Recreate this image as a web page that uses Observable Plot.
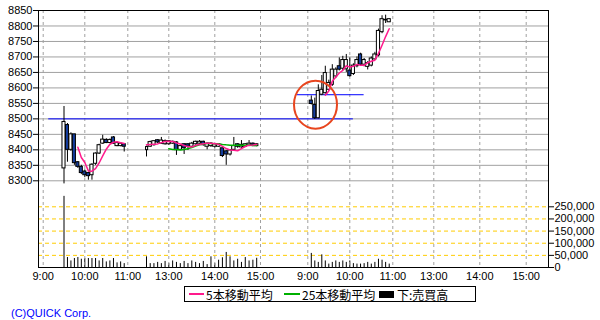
<!DOCTYPE html>
<html><head><meta charset="utf-8">
<script src="https://cdn.jsdelivr.net/npm/d3@7"></script>
<script src="https://cdn.jsdelivr.net/npm/@observablehq/plot@0.6"></script>
<style>
html,body{margin:0;padding:0;background:#fff;}
#wrap{position:relative;width:600px;height:320px;overflow:hidden;font-family:"Liberation Sans",Arial,sans-serif;}
#wrap svg{position:absolute;left:0;top:0;}
.abs{position:absolute;white-space:nowrap;}
.lg{font-family:"Noto Sans CJK JP",sans-serif;font-size:12px;line-height:15px;color:#000;}
</style></head>
<body><div id="wrap"></div>
<script>
// ---- session starts (5-minute bars) ----
const d1amStart = "9:30", d1pmStart = "12:30", d2amStart = "9:05";

// ---- Day 1 morning ----
const d1amOpen  = [8340,8480,8400,8450,8360,8345,8330,8325,8318,8355,8388,8420,8432,8422,8440,8412,8412,8418];
const d1amHigh  = [8540,8485,8455,8450,8362,8350,8335,8328,8355,8390,8418,8447,8436,8435,8443,8425,8422,8420];
const d1amLow   = [8290,8360,8395,8350,8340,8320,8310,8302,8302,8350,8385,8418,8420,8420,8418,8410,8410,8393];
const d1amClose = [8490,8400,8450,8357,8345,8325,8318,8315,8352,8388,8415,8433,8422,8432,8420,8422,8420,8410];
const d1amVol   = [293000,41000,27000,37000,41000,34000,37000,37000,37000,37000,27000,37000,23000,27000,37000,19000,23000,16000];

// ---- Day 1 afternoon ----
const d1pmOpen  = [8399,8410,8415,8431,8420,8418,8418,8420,8424,8400,8418,8418,8410,8418,8420,8426,8410,8412,8410,8410,8405,8395,8385,8400,8418,8408,8410,8414,8420,8412];
const d1pmHigh  = [8412,8428,8430,8433,8440,8432,8430,8428,8426,8415,8420,8420,8424,8428,8430,8428,8422,8423,8420,8420,8406,8398,8400,8440,8420,8430,8420,8430,8422,8420];
const d1pmLow   = [8377,8408,8412,8420,8418,8415,8415,8418,8382,8398,8385,8398,8408,8415,8418,8412,8400,8408,8405,8408,8375,8350,8380,8398,8405,8405,8408,8410,8410,8410];
const d1pmClose = [8409,8425,8428,8424,8430,8428,8428,8426,8399,8412,8405,8410,8420,8426,8426,8415,8420,8420,8418,8418,8380,8385,8398,8412,8410,8416,8418,8420,8414,8418];
const d1pmVol   = [44000,16000,16000,21000,16000,25000,16000,27000,21000,16000,25000,16000,27000,21000,16000,25000,12000,44000,16000,30000,40000,62000,44000,27000,34000,21000,41000,27000,30000,38000];

// ---- Day 2 morning ----
const d2amOpen  = [8559,8545,8502,8578,8583,8594,8610,8637,8670,8662,8660,8656,8645,8670,8708,8675,8668,8672,8692,8705,8780,8818,8812];
const d2amHigh  = [8574,8567,8610,8640,8670,8625,8675,8665,8697,8702,8708,8697,8678,8700,8712,8695,8685,8700,8715,8790,8833,8835,8823];
const d2amLow   = [8545,8498,8500,8575,8580,8590,8605,8630,8655,8655,8650,8635,8640,8665,8670,8668,8658,8668,8690,8700,8775,8808,8811];
const d2amClose = [8548,8502,8590,8594,8648,8616,8659,8659,8659,8690,8690,8638,8672,8690,8675,8690,8680,8695,8708,8784,8822,8820,8822];
const d2amVol   = [58000,27000,21000,52000,27000,14000,21000,27000,21000,27000,21000,27000,16000,14000,14000,16000,21000,14000,21000,34000,30000,21000,14000];

// ---- axes ----
const priceTicks = [8300,8350,8400,8450,8500,8550,8600,8650,8700,8750,8800,8850];
const priceGrid  = [8300,8350,8400,8450,8500,8550,8600,8650,8700,8750,8800];
const volTicks   = [0,50000,100000,150000,200000,250000];
const tickDays   = [1,1,1,1,1,1,2,2,2,2,2,2];
const tickLabels = ["9:00","10:00","11:00","13:00","14:00","15:00","9:00","10:00","11:00","13:00","14:00","15:00"];

// ---- annotations ----
const refPrices = [8500, 8578];
const refFrom   = [[1,"9:08"],[2,"8:45"]];
const refTo     = [[2,"10:05"],[2,"10:20"]];
const circleAt  = [2,"9:11"], circlePrice = 8546;

// ---- helpers ----
const mins = (day, hm) => { const [h,m] = hm.split(":").map(Number); return (day-1)*1440 + (h-9)*60 + m; };
function bars(day, session, start, O, H, L, C, V) {
  const t0 = mins(day, start);
  return O.map((o,i) => ({t: t0 + 5*i, day, session, open:o, high:H[i], low:L[i], close:C[i], vol:V[i]}));
}
const candles = [
  ...bars(1,"1am",d1amStart,d1amOpen,d1amHigh,d1amLow,d1amClose,d1amVol),
  ...bars(1,"1pm",d1pmStart,d1pmOpen,d1pmHigh,d1pmLow,d1pmClose,d1pmVol),
  ...bars(2,"2am",d2amStart,d2amOpen,d2amHigh,d2amLow,d2amClose,d2amVol)
];
// trailing moving averages over each day's closes
for (const day of [1,2]) {
  const rows = candles.filter(d => d.day === day);
  const cl = rows.map(d => d.close);
  rows.forEach((d,i) => {
    d.ma5  = i >= 4  ? d3.mean(cl.slice(i-4, i+1))  : NaN;
    d.ma25 = i >= 24 ? d3.mean(cl.slice(i-24, i+1)) : NaN;
  });
}
const refLines = refPrices.map((p,i) => ({price:p, from: mins(...refFrom[i]), to: mins(...refTo[i])}));
const circle = [{t: mins(...circleAt), price: circlePrice}];

// session-compressed time axis: clock minutes -> axis position
const sessionTime = d3.scaleLinear()
  .domain([0,60,120,210,240,300,360,390,1410,1440,1500,1560,1650,1680,1740,1800])
  .range([42.7,84.3,127.3,146,168.3,214.3,260,283,286.3,307.3,349.3,392.3,412,433.3,479.3,525.7]);
const tickTimes = tickLabels.map((l,i) => mins(tickDays[i], l));
const tickPos = tickTimes.map(sessionTime);
const labelAt = new Map(tickPos.map((p,i) => [p, tickLabels[i]]));

const W = 600, H = 285, M = {marginLeft:38, marginRight:52, marginTop:10, marginBottom:18};
const xOpts = {transform: sessionTime, domain:[38,548], range:[38,548]};
const baseStyle = {background:"transparent", overflow:"visible", fontFamily:"Liberation Sans, Arial, sans-serif", fontSize:"11px", color:"#000"};

const ellipse = { draw(ctx) { const rx=21.5, ry=24, k=0.5523;
  ctx.moveTo(rx,0); ctx.bezierCurveTo(rx,ry*k,rx*k,ry,0,ry); ctx.bezierCurveTo(-rx*k,ry,-rx,ry*k,-rx,0);
  ctx.bezierCurveTo(-rx,-ry*k,-rx*k,-ry,0,-ry); ctx.bezierCurveTo(rx*k,-ry,rx,-ry*k,rx,0); ctx.closePath(); } };

// volume panel (underneath)
const volPlot = Plot.plot({
  width: W, height: H, ...M, style: baseStyle,
  x: {...xOpts, axis: null},
  y: {domain:[0,250000], range:[267,206.3], axis:"right", ticks: volTicks, tickFormat: d3.format(","), tickSize:5, tickPadding:1, label:null},
  marks: [
    Plot.ruleY(volTicks, {stroke:"#ffcc00", strokeDasharray:"4,3"}),
    Plot.ruleX(candles, {x:"t", y1:0, y2:"vol", stroke:"#000"})
  ]
});

// price panel (on top)
const pricePlot = Plot.plot({
  width: W, height: H, ...M, style: baseStyle,
  x: {...xOpts, ticks: tickPos, tickFormat: d => labelAt.get(d), tickSize:0, tickPadding:5, label:null},
  y: {domain:[8300,8850], range:[180.3,10], ticks: priceTicks, tickFormat: d3.format("d"), tickSize:5, tickPadding:1, label:null},
  marks: [
    Plot.ruleY(priceGrid, {stroke:"#a0a0a0"}),
    Plot.ruleX(tickTimes, {stroke:"#a0a0a0", strokeDasharray:"3,3"}),
    Plot.ruleY(refLines, {y:"price", x1:"from", x2:"to", stroke:"#0000ff"}),
    Plot.ruleX(candles, {x:"t", y1:"low", y2:"high", stroke:"#000"}),
    Plot.rect(candles, {x1: d => d.t - 2.2, x2: d => d.t + 2.2, y1:"open", y2:"close",
      fill: d => d.close >= d.open ? "#fff" : "#143c9c", stroke:"#000"}),
    Plot.line(candles, {x:"t", y:"ma25", z:"session", stroke:"#00b000"}),
    Plot.line(candles, {x:"t", y:"ma5", z:"session", stroke:"#ff1a8c"}),
    Plot.dot(circle, {x:"t", y:"price", symbol: ellipse, fill:"none", stroke:"#e8451e", strokeWidth:2}),
    Plot.frame({stroke:"#000"})
  ]
});

const wrap = document.getElementById("wrap");
wrap.appendChild(volPlot);
wrap.appendChild(pricePlot);

// legend
const lg = document.createElement("div");
lg.innerHTML = `
<div class="abs" style="left:184px;top:286px;width:292px;height:16px;border:1px solid #000;box-sizing:border-box;"></div>
<div class="abs" style="left:189px;top:293px;width:15px;height:2px;background:#ff1a8c;"></div>
<div class="abs lg" style="left:206px;top:287px;">5本移動平均</div>
<div class="abs" style="left:284px;top:293px;width:16px;height:2px;background:#00b000;"></div>
<div class="abs lg" style="left:302px;top:287px;">25本移動平均</div>
<div class="abs" style="left:379px;top:291px;width:15px;height:7px;background:#000;"></div>
<div class="abs lg" style="left:397px;top:287px;">下:売買高</div>
<div class="abs" style="left:11px;top:306px;font-size:11px;line-height:14px;color:#0000ff;font-family:'Liberation Sans',Arial,sans-serif;">(C)QUICK Corp.</div>`;
wrap.appendChild(lg);
</script>
</body></html>
